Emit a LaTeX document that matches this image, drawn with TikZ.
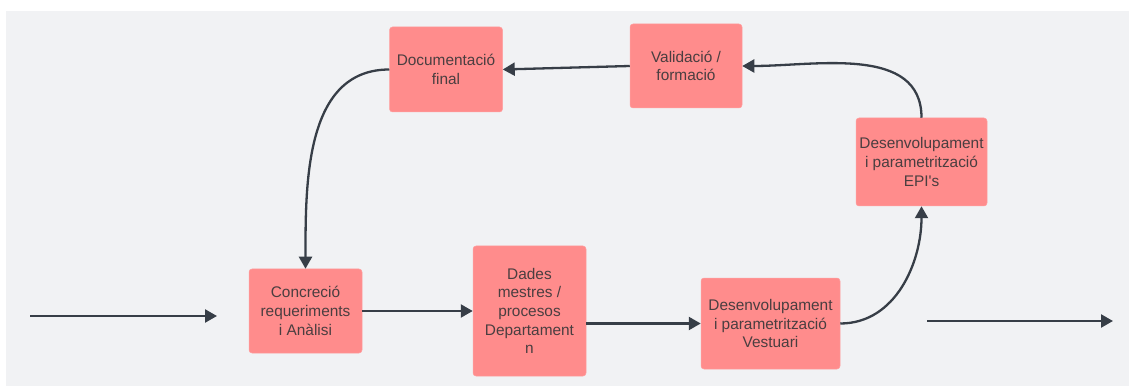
\documentclass[tikz,border=0pt]{standalone}
\usepackage{fontspec}
\setmainfont{Liberation Sans}
\usetikzlibrary{arrows.meta}
\definecolor{boxfill}{RGB}{255,140,140}
\definecolor{boxline}{RGB}{255,160,160}
\definecolor{bggrey}{RGB}{241,242,244}
\definecolor{linedark}{RGB}{55,62,71}
\definecolor{textdark}{RGB}{74,62,64}

\begin{document}
\begin{tikzpicture}[x=1pt,y=1pt,yscale=-1,xscale=1,
  procbox/.style={draw=boxline, fill=boxfill, rounded corners=3pt, inner sep=0pt,
    align=center, text=textdark, font=\fontsize{15.4}{18.7}\selectfont, line width=0.5pt},
  flow/.style={draw=linedark, line width=2.3pt, -{Triangle[length=12pt,width=13pt]}}]
\useasboundingbox (0,0) rectangle (1129,387);
%background
\fill [bggrey] (6,11) rectangle (1129,386);

%Flowchart: Process
\node [procbox, minimum width=113, minimum height=85] (doc) at (446,69.5) {Documentació\\final};
%Flowchart: Process
\node [procbox, minimum width=112, minimum height=84] (val) at (686,66) {Validació /\\formació};
%Flowchart: Process
\node [procbox, minimum width=113, minimum height=84] (conc) at (305.5,311) {Concreció\\requeriments\\i Anàlisi};
%Flowchart: Process
\node [procbox, minimum width=113, minimum height=130] (dades) at (529.5,311) {Dades\\mestres /\\procesos\\Departament\\n};
%Flowchart: Process
\node [procbox, minimum width=139, minimum height=91] (vest) at (770.5,323.5) {Desenvolupament\\i parametrització\\Vestuari};
%Flowchart: Process
\node [procbox, minimum width=131, minimum height=88] (epi) at (921.5,162) {Desenvolupament\\i parametrització\\EPI\textquotesingle s};

%free ends
\coordinate (inA) at (30,316);
\coordinate (inB) at (217,316);
\coordinate (outA) at (927,321);
\coordinate (outB) at (1113,321);

%Straight Lines
\draw [flow] (inA) -- (inB);
\draw [flow] (conc.east) -- (dades.west);
\draw [flow] (dades.east |- vest.west) -- (vest.west);
\draw [flow] (val.west) -- (doc.east);
\draw [flow] (outA) -- (outB);
%Curves (yscale=-1, so up is -90)
\draw [flow] (vest.east) to [out=0,in=90] (epi.south);
\draw [flow] (epi.north) to [out=-90,in=0] (val.east);
\draw [flow] (doc.west) to [out=180,in=-90] (conc.north);
\end{tikzpicture}
\end{document}
